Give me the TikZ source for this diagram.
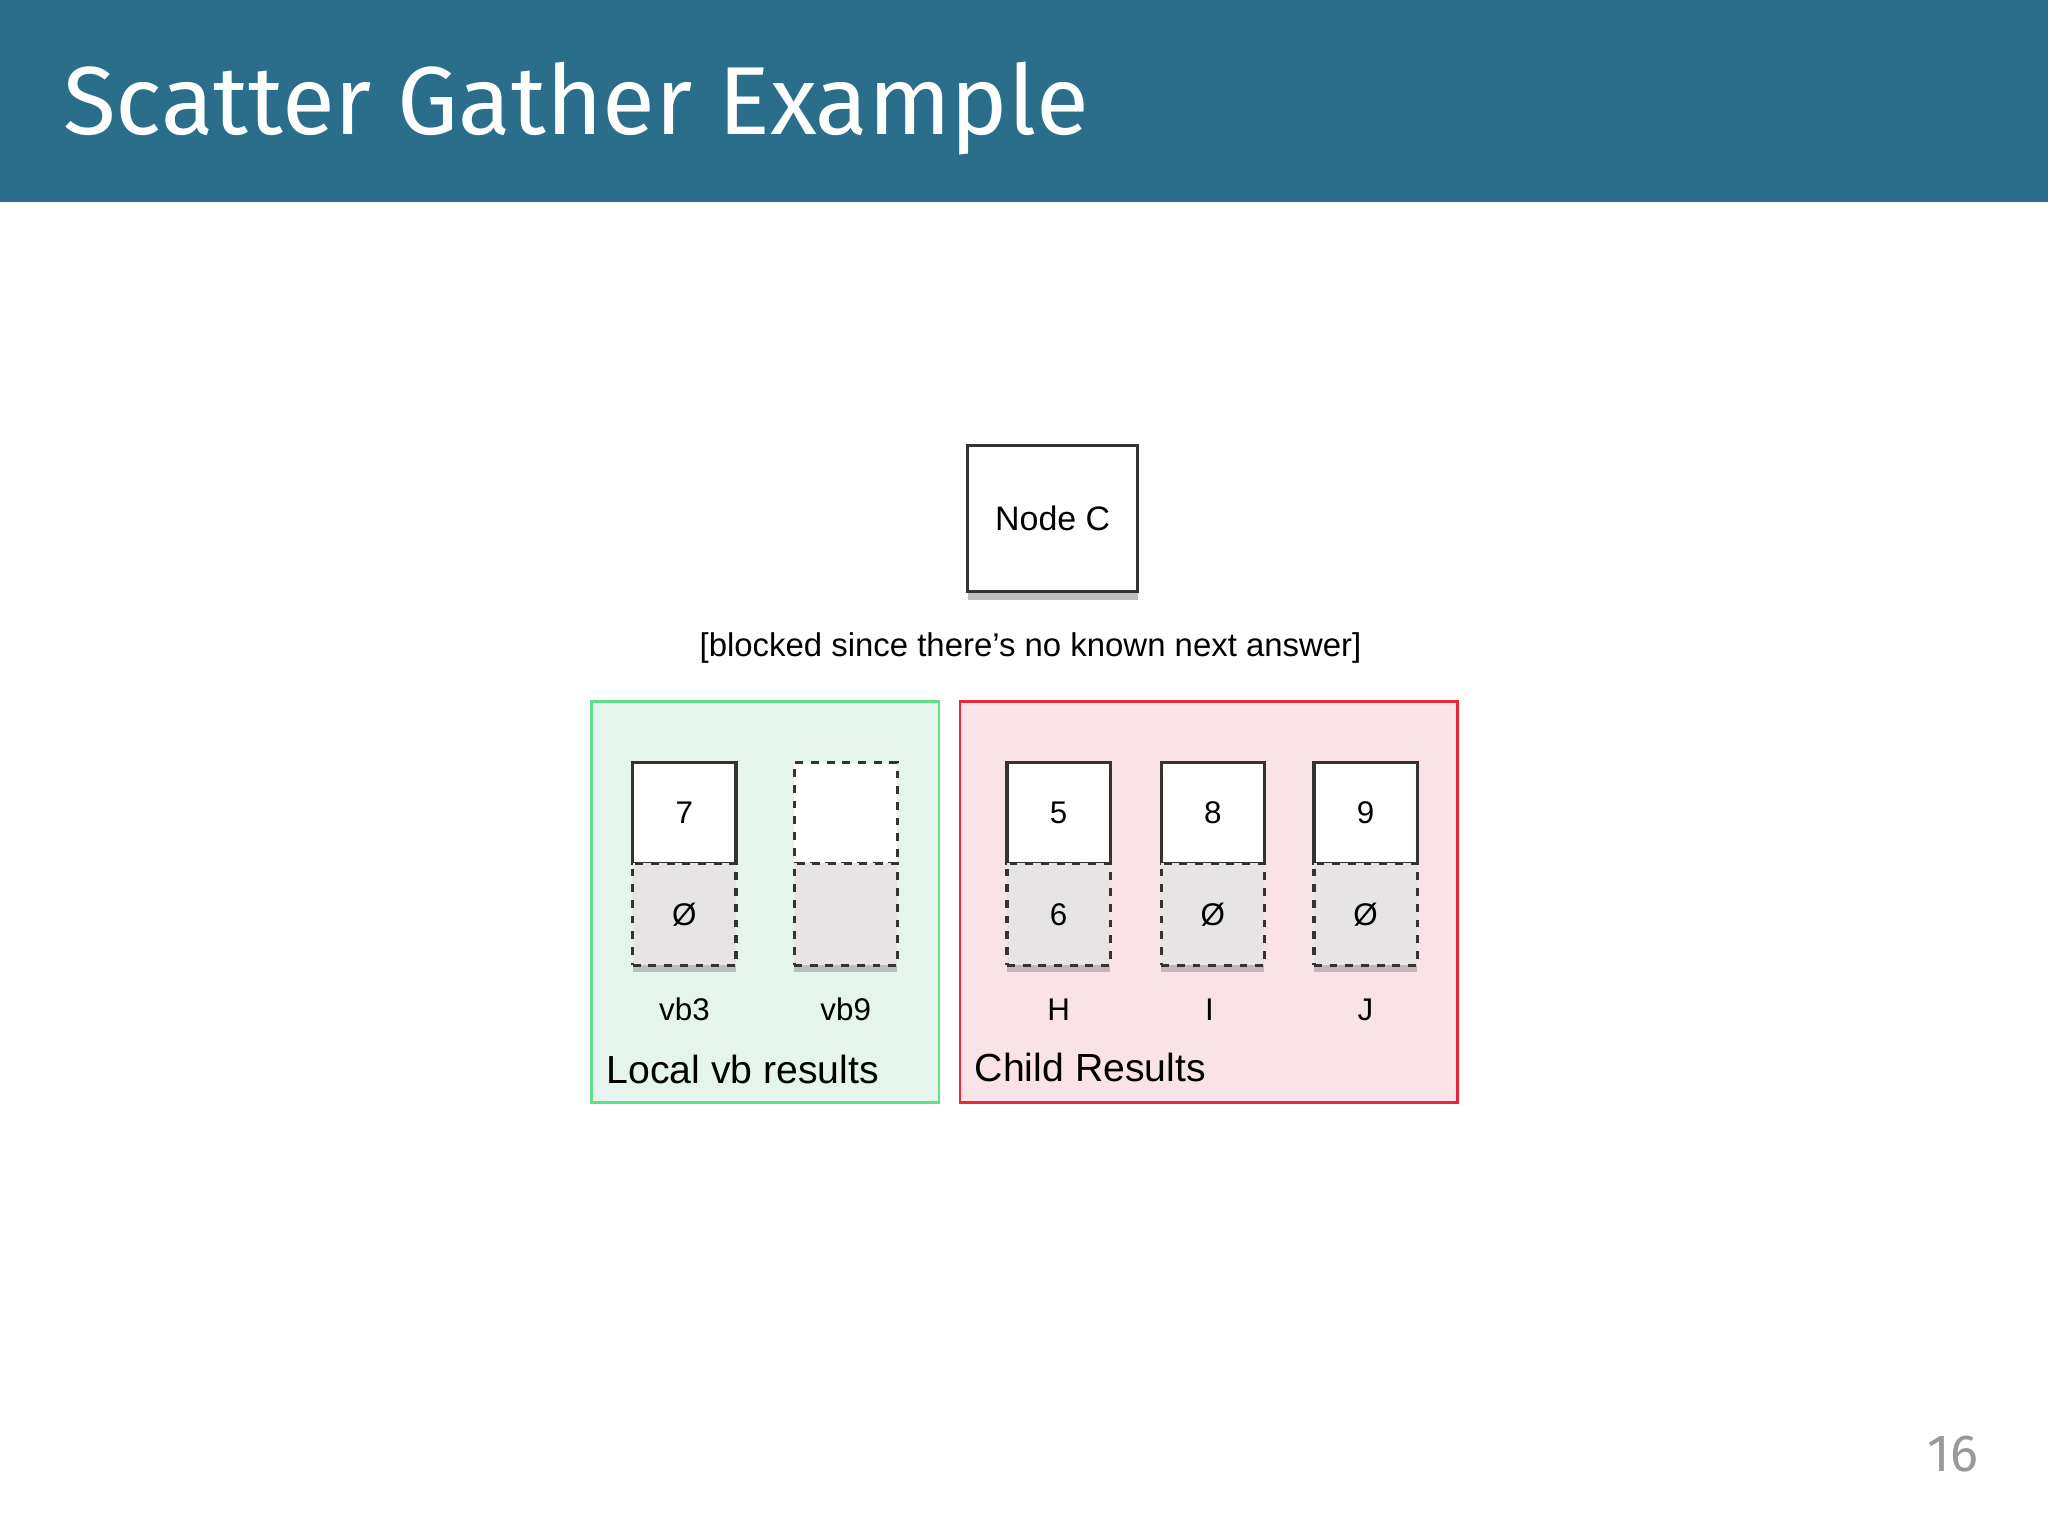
\documentclass[tikz,border=0pt]{standalone}
\usepackage{fontspec}
\setmainfont{Liberation Sans}
\newfontfamily\titlefont{Fira Sans}
\usetikzlibrary{shadows}
\definecolor{banner}{HTML}{2B6E8C}
\definecolor{gfill}{HTML}{E6F5EC}
\definecolor{gdraw}{HTML}{5EE08A}
\definecolor{rfill}{HTML}{F9E3E6}
\definecolor{rdraw}{HTML}{E8283C}
\definecolor{cellgray}{HTML}{E6E4E4}
\begin{document}
\begin{tikzpicture}[x=0.5pt,y=-0.5pt,
  topcell/.style={draw=black!80,line width=1.2pt,fill=white,minimum width=39.5pt,minimum height=38.5pt,inner sep=0pt,font=\fontsize{12}{14}\selectfont,drop shadow={shadow xshift=0pt,shadow yshift=-2.5pt,opacity=.45}},
  botcell/.style={draw=black!80,line width=1.2pt,dashed,fill=cellgray,minimum width=39.5pt,minimum height=39pt,inner sep=0pt,font=\fontsize{12}{14}\selectfont,drop shadow={shadow xshift=0pt,shadow yshift=-2.5pt,opacity=.45}},
  lbl/.style={font=\fontsize{12}{14}\selectfont,inner sep=0pt},
  grp/.style={line width=1pt}]
\useasboundingbox (0,0) rectangle (1568,1176);
\fill[banner] (0,0) rectangle (1568,155);
\node[anchor=base west,text=white,inner sep=0pt,font=\titlefont\fontsize{37}{40}\selectfont] (title) at (48,103) {Scatter Gather Example};
\node[draw=black!80,line width=1.2pt,fill=white,minimum width=65pt,minimum height=56pt,font=\fontsize{13}{15}\selectfont,drop shadow={shadow xshift=0pt,shadow yshift=-3pt,opacity=.5}] (nodec) at (806,397) {Node C};
\node[lbl,font=\fontsize{12.6}{14}\selectfont] (blk) at (789,496) {[blocked since there\symbol{39}s no known next answer]};
\draw[grp,draw=gdraw,fill=gfill] (453,537) rectangle (719,844);
\draw[grp,draw=rdraw,fill=rfill] (735,537) rectangle (1116,844);
\node[topcell] (t1) at (524,622.5) {7};
\node[botcell] (b1) at (524,700) {Ø};
\node[topcell,dashed] (t2) at (647.5,622.5) {};
\node[botcell] (b2) at (647.5,700) {};
\node[topcell] (t3) at (810.5,622.5) {5};
\node[botcell] (b3) at (810.5,700) {6};
\node[topcell] (t4) at (928.5,622.5) {8};
\node[botcell] (b4) at (928.5,700) {Ø};
\node[topcell] (t5) at (1045.5,622.5) {9};
\node[botcell] (b5) at (1045.5,700) {Ø};
\node[lbl] (l1) at (524,773) {vb3};
\node[lbl] (l2) at (647.5,773) {vb9};
\node[lbl] (l3) at (810.5,773) {H};
\node[lbl] (l4) at (926,773) {I};
\node[lbl] (l5) at (1045.5,773) {J};
\node[anchor=west,inner sep=0pt,font=\fontsize{15}{17}\selectfont] (loc) at (464,819) {Local vb results};
\node[anchor=west,inner sep=0pt,font=\fontsize{15}{17}\selectfont] (chi) at (746,817) {Child Results};
\node[text=black!40,inner sep=0pt,font=\titlefont\fontsize{20}{22}\selectfont] (pg) at (1495,1113) {16};
\end{tikzpicture}
\end{document}
